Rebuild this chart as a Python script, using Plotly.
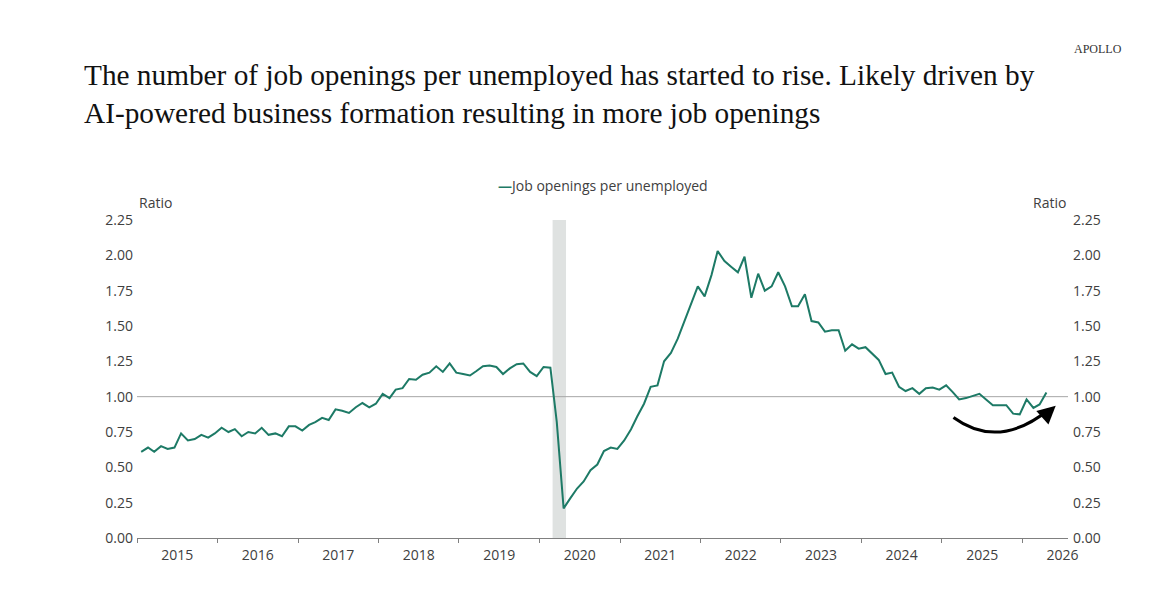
import pandas as pd
import plotly.graph_objects as go

# Job openings per unemployed, monthly, Jan 2015 - Apr 2026
start_month = "2015-01-01"
ratio = [
    0.61, 0.64, 0.61, 0.65, 0.63, 0.64, 0.74, 0.69, 0.70, 0.73, 0.71, 0.74,   # 2015
    0.78, 0.75, 0.77, 0.72, 0.75, 0.74, 0.78, 0.73, 0.74, 0.72, 0.79, 0.79,   # 2016
    0.76, 0.80, 0.82, 0.85, 0.835, 0.91, 0.90, 0.885, 0.925, 0.955, 0.925, 0.95,  # 2017
    1.02, 0.99, 1.05, 1.06, 1.125, 1.12, 1.155, 1.17, 1.215, 1.175, 1.235, 1.17,  # 2018
    1.16, 1.15, 1.18, 1.215, 1.22, 1.21, 1.16, 1.20, 1.23, 1.235, 1.175, 1.145,   # 2019
    1.21, 1.205, 0.82, 0.21, 0.28, 0.35, 0.40, 0.48, 0.52, 0.615, 0.64, 0.63,   # 2020
    0.69, 0.77, 0.86, 0.95, 1.07, 1.08, 1.25, 1.31, 1.41, 1.53, 1.66, 1.78,   # 2021
    1.71, 1.86, 2.03, 1.96, 1.92, 1.88, 1.99, 1.70, 1.87, 1.75, 1.78, 1.88,   # 2022
    1.78, 1.64, 1.64, 1.725, 1.535, 1.525, 1.46, 1.47, 1.47, 1.325, 1.37, 1.34,  # 2023
    1.35, 1.30, 1.26, 1.16, 1.17, 1.07, 1.04, 1.06, 1.02, 1.06, 1.065, 1.05,  # 2024
    1.08, 1.03, 0.98, 0.99, 1.005, 1.02, 0.98, 0.94, 0.94, 0.94, 0.88, 0.875,  # 2025
    0.98, 0.92, 0.945, 1.03,                                                   # 2026
]
months = pd.date_range(start_month, periods=len(ratio), freq="MS") + pd.Timedelta(days=19)

recession = ("2020-03-01", "2020-05-01")
x_range = ["2015-01-01", "2026-07-27"]
y_ticks = [0, 0.25, 0.5, 0.75, 1.0, 1.25, 1.5, 1.75, 2.0, 2.25]

green = "#1d7a66"
tick_font = dict(family="Open Sans", size=14, color="#404040")

# the page body has an 8px margin, so the figure is a bit smaller than the window
W, H = 1155, 588

fig = go.Figure()
fig.add_trace(go.Scatter(x=months, y=ratio, mode="lines",
                         line=dict(color=green, width=2),
                         name="Job openings per unemployed", showlegend=False))
# same series on the right axis, invisible, so that axis gets drawn
fig.add_trace(go.Scatter(x=months, y=ratio, mode="lines", yaxis="y2",
                         line=dict(color=green, width=2), opacity=0,
                         hoverinfo="skip", showlegend=False))

# recession shading
fig.add_shape(type="rect", xref="x", yref="paper", x0=recession[0], x1=recession[1],
              y0=0, y1=1, fillcolor="#dfe2e1", line_width=0, layer="below")
# 1.00 reference line
fig.add_shape(type="line", xref="paper", yref="y", x0=0, x1=1, y0=1, y1=1,
              line=dict(color="#a6a6a6", width=1), layer="below")
# curved arrow
fig.add_shape(type="path", xref="paper", yref="paper",
              path="M 0.877 0.379 Q 0.9254 0.2756 0.9800 0.4050",
              line=dict(color="black", width=3))
fig.add_annotation(x=0.9868, y=0.4162, xref="paper", yref="paper", text="",
                   showarrow=True, ax=-11, ay=10, arrowhead=2, arrowsize=1.2,
                   arrowwidth=3, arrowcolor="black")

fig.add_annotation(x=0.3858, y=1.109, xref="paper", yref="paper", xanchor="left",
                   yanchor="middle", showarrow=False,
                   text=f"<span style='color:{green}'><b>—</b></span>Job openings per unemployed",
                   font=dict(family="Open Sans", size=14, color="#404040"))
for xp in (0, 1):
    fig.add_annotation(x=xp, y=1.0546, xref="paper", yref="paper", showarrow=False,
                       text="Ratio", font=tick_font, yanchor="middle")
fig.add_annotation(x=1.0601, y=1.539, xref="paper", yref="paper", xanchor="right",
                   yanchor="middle", showarrow=False, text="APOLLO",
                   font=dict(family="Liberation Serif", size=12, color="#333333"))

fig.update_layout(
    width=W, height=H,
    margin=dict(l=129, r=95, t=212, b=58),
    paper_bgcolor="white", plot_bgcolor="white",
    title=dict(text="The number of job openings per unemployed has started to rise. Likely driven by<br>"
                    "AI-powered business formation resulting in more job openings",
               x=76 / W, xanchor="left", xref="container",
               y=1 - 77 / H, yanchor="top", yref="container",
               font=dict(family="Liberation Serif", size=29.3, color="#111111")),
    xaxis=dict(type="date", range=x_range, showgrid=False, zeroline=False,
               showline=True, linecolor="#808080", linewidth=1,
               tick0="2015-01-01", dtick="M12", ticklabelmode="period", tickformat="%Y",
               ticks="outside", ticklen=4, tickcolor="#808080", tickfont=tick_font),
    yaxis=dict(range=[0, 2.25], tickvals=y_ticks, tickformat=".2f", showgrid=False,
               zeroline=False, showline=False, ticks="", tickfont=tick_font,
               ticklabelstandoff=3),
    yaxis2=dict(range=[0, 2.25], tickvals=y_ticks, tickformat=".2f", showgrid=False,
                zeroline=False, showline=False, ticks="", tickfont=tick_font,
                overlaying="y", side="right", ticklabelstandoff=4),
)

fig.write_html("out.html")
